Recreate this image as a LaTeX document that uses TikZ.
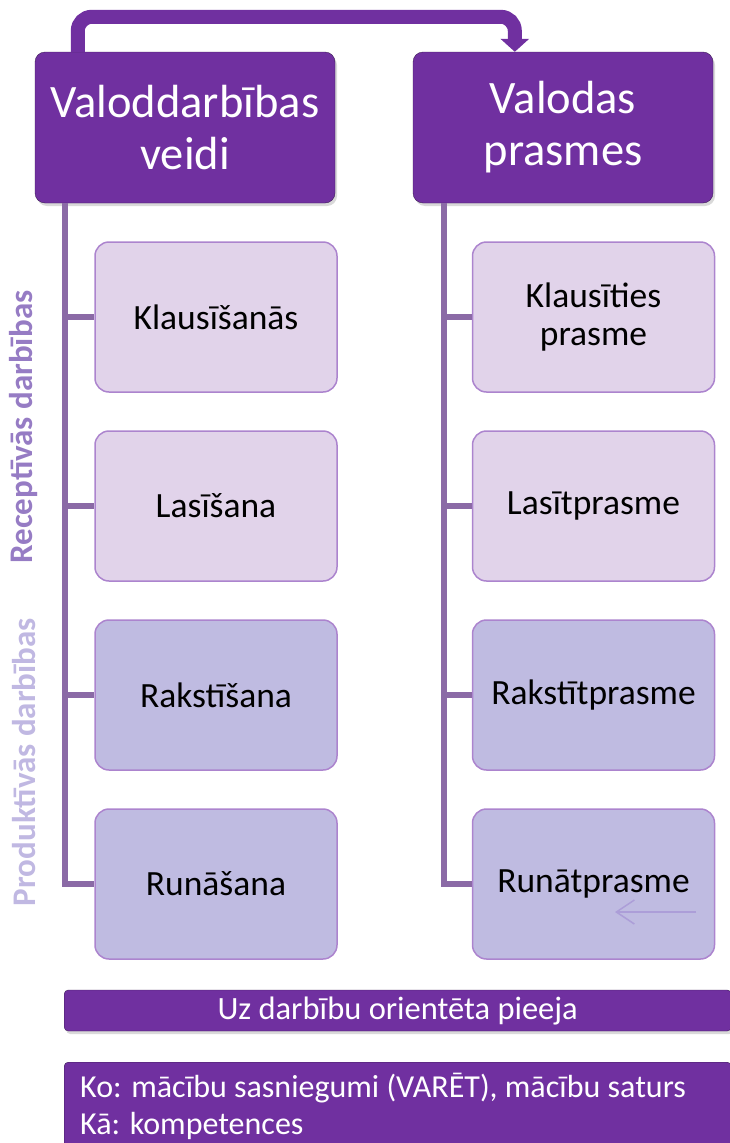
\documentclass[tikz,border=0pt]{standalone}
\usepackage{fontspec}
\setmainfont{Carlito}
\usetikzlibrary{positioning, calc, arrows.meta, shadows}
\definecolor{lvPurple}{RGB}{112, 48, 160}
\definecolor{lvEdge}{RGB}{62, 30, 88}
\definecolor{lvTrunk}{RGB}{139, 106, 166}
\definecolor{lvPink}{RGB}{225, 211, 234}
\definecolor{lvLilac}{RGB}{191, 187, 225}
\definecolor{lvBorder}{RGB}{172, 132, 206}
\definecolor{lvRecept}{RGB}{150, 124, 196}
\definecolor{lvProdukt}{RGB}{192, 184, 226}
\definecolor{lvHint}{RGB}{172, 158, 216}
\tikzset{
    base/.style={
        align=center,
        inner sep=0pt
    },
    header/.style={
        base,
        rectangle,
        rounded corners=10pt,
        fill=lvPurple,
        draw=lvEdge,
        text=white,
        minimum width=300pt,
        minimum height=151pt,
        font=\fontsize{46.5}{52}\selectfont,
        drop shadow={opacity=0.3, shadow xshift=2pt, shadow yshift=-3pt}
    },
    skill/.style={
        base,
        rectangle,
        rounded corners=14pt,
        draw=lvBorder,
        line width=1.5pt,
        minimum width=242pt,
        minimum height=150pt,
        font=\fontsize{35.5}{38}\selectfont
    },
    receptive/.style={
        skill,
        fill=lvPink
    },
    productive/.style={
        skill,
        fill=lvLilac
    },
    bar/.style={
        base,
        rectangle,
        rounded corners=4pt,
        fill=lvPurple,
        draw=lvEdge,
        text=white,
        minimum width=667pt,
        font=\fontsize{32.5}{37}\selectfont,
        drop shadow={opacity=0.3, shadow xshift=2pt, shadow yshift=-3pt}
    },
    side/.style={
        font=\fontsize{33}{36}\selectfont\bfseries,
        rotate=90
    },
    trunk/.style={
        line width=5.5pt,
        color=lvTrunk
    },
    loopArrow/.style={
        -{Triangle[width=28pt, length=13pt]},
        line width=14pt,
        rounded corners=14pt,
        color=lvPurple
    },
    hint/.style={
        -{Straight Barb[width=24pt, length=18pt]},
        line width=1.5pt,
        color=lvHint
    }
}

\begin{document}
\begin{tikzpicture}[x=1pt, y=-1pt]
  \useasboundingbox (0,0) rectangle (729,1143);

  % Headers
  \node[header] (kinds) at (185,127.5) {Valoddarbības\\veidi};
  \node[header] (skills) at (563,127.5) {Valodas\\prasmes};
  \draw[loopArrow] ([xshift=43pt]kinds.north west) -- ++(0,-35) -| ([xshift=102pt]skills.north west);

  % Activities
  \node[receptive] (listen) at (216,317) {Klausīšanās};
  \node[receptive] (read) at (216,506) {Lasīšana};
  \node[productive] (write) at (216,695) {Rakstīšana};
  \node[productive] (speak) at (216,884) {Runāšana};

  % Skills
  \node[receptive] (listenS) at (593.5,317) {Klausīties\\prasme};
  \node[receptive] (readS) at (593.5,506) {Lasītprasme};
  \node[productive] (writeS) at (593.5,695) {Rakstītprasme};
  \node[productive] (speakS) at (593.5,884) {Runātprasme};

  \foreach \n in {listen, read, write, speak} {
    \draw[trunk] ([xshift=30pt]kinds.south west) |- (\n.west);
    \draw[trunk] ([xshift=31pt]skills.south west) |- (\n S.west);
  }

  \coordinate (hintA) at (696,912);
  \coordinate (hintB) at (615,912);
  \draw[hint] (hintA) -- (hintB);

  % Side labels
  \node[side, text=lvRecept] (recept) at (24,427) {Receptīvās darbības};
  \node[side, text=lvProdukt] (produkt) at (24,762) {Produktīvās darbības};

  % Bottom bars
  \node[bar, anchor=west, minimum height=41pt] (approach) at (64,1010.5) {Uz darbību orientēta pieeja};
  \node[bar, anchor=north west, minimum height=88pt, align=flush left, text width=635pt, inner xsep=16pt, font=\fontsize{32}{37}\selectfont] (scope) at (64,1062) {Ko: mācību sasniegumi (VARĒT), mācību saturs\\Kā: kompetences};
\end{tikzpicture}
\end{document}
